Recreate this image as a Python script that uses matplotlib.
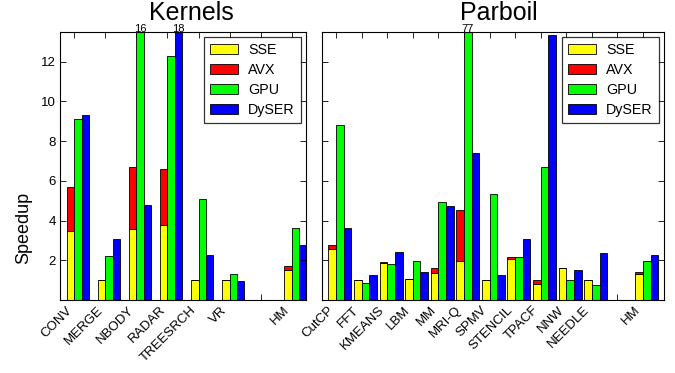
import matplotlib
matplotlib.use("Agg")
import matplotlib.pyplot as plt
import numpy as np

plt.rcParams['font.family'] = ['Liberation Sans', 'DejaVu Sans']

YMAX = 13.5

k_names = ["CONV", "MERGE", "NBODY", "RADAR", "TREESRCH", "VR", "", "HM"]
k_sse = [3.47, 0.99, 3.59, 3.78, 1.0, 1.0, 0.0, 1.53]
k_avx = [5.69, 0.99, 6.69, 6.59, 1.0, 1.0, 0.0, 1.73]
k_gpu = [9.14, 2.21, 16.0, 12.3, 5.1, 1.33, 0.0, 3.64]
k_dyser = [9.33, 3.05, 4.80, 18.0, 2.25, 0.98, 0.0, 2.79]

p_names = ["CutCP", "FFT", "KMEANS", "LBM", "MM", "MRI-Q", "SPMV", "STENCIL",
           "TPACF", "NNW", "NEEDLE", "", "HM"]
p_sse = [2.58, 0.99, 1.85, 1.04, 1.38, 1.98, 0.99, 2.05, 0.82, 1.61, 0.99, 0.0, 1.29]
p_avx = [2.79, 1.01, 1.90, 1.04, 1.59, 4.51, 0.99, 2.16, 0.99, 1.63, 0.99, 0.0, 1.41]
p_gpu = [8.81, 0.84, 1.81, 1.95, 4.92, 77.0, 5.35, 2.15, 6.69, 1.02, 0.77, 0.0, 1.96]
p_dyser = [3.62, 1.24, 2.42, 1.39, 4.75, 7.42, 1.26, 3.09, 13.37, 1.53, 2.35, 0.0, 2.28]

COLORS = {"SSE": "#ffff00", "AVX": "#ff0000", "GPU": "#00ff00", "DySER": "#0000ff"}

fig = plt.figure(figsize=(6.75, 3.73), dpi=100)
H = 373.0
W = 675.0
axL = fig.add_axes([60 / W, (H - 300) / H, 246 / W, 268 / H])
axR = fig.add_axes([321.7 / W, (H - 300) / H, 342.3 / W, 268 / H])


def draw(ax, names, sse, avx, gpu, dyser, w, xlim, title, tx):
    x = np.arange(len(names))
    sse = np.array(sse)
    avx = np.array(avx)
    kw = dict(width=w, align="edge", edgecolor="black", linewidth=0.6)
    ax.bar(x, sse, color=COLORS["SSE"], label="SSE", **kw)
    ax.bar(x, avx - sse, bottom=sse, color=COLORS["AVX"], label="AVX", **kw)
    ax.bar(x + w, gpu, color=COLORS["GPU"], label="GPU", **kw)
    ax.bar(x + 2 * w, dyser, color=COLORS["DySER"], label="DySER", **kw)
    for xs, vals in ((x + w, gpu), (x + 2 * w, dyser)):
        for xi, v in zip(xs, vals):
            if v > YMAX:
                ax.text(xi + w / 2, YMAX, "%d" % round(v), ha="center",
                        va="baseline", fontsize=8)
    ax.set_xlim(*xlim)
    ax.set_ylim(0, YMAX)
    ax.set_xticks(x + w)
    ax.set_xticklabels(names, rotation=45, ha="right", rotation_mode="default",
                       fontsize=10.5)
    ax.set_yticks([2, 4, 6, 8, 10, 12])
    ax.tick_params(direction="in", top=True, right=True, length=4, width=0.6,
                   labelsize=9.5, pad=3)
    ax.set_title(title, fontsize=18, pad=8.5, x=tx)
    leg = ax.legend(loc="upper right", fontsize=10.3, frameon=True, fancybox=False,
                    handlelength=1.9, handleheight=0.7, borderpad=0.42,
                    labelspacing=0.42, handletextpad=0.75, borderaxespad=0.35)
    leg.get_frame().set_edgecolor("black")
    leg.get_frame().set_linewidth(0.9)
    for s in ax.spines.values():
        s.set_linewidth(0.8)


wL = 0.7 / 3
draw(axL, k_names, k_sse, k_avx, k_gpu, k_dyser, wL, (-wL, 7 + 3 * wL), "Kernels", 0.535)
wR = 0.3
draw(axR, p_names, p_sse, p_avx, p_gpu, p_dyser, wR, (-0.26, 13.12), "Parboil", 0.518)
axR.tick_params(labelleft=False)
axL.set_ylabel("Speedup", fontsize=13)
axL.yaxis.set_label_coords(-0.114, 0.27)

fig.savefig("out.png", dpi=100)
